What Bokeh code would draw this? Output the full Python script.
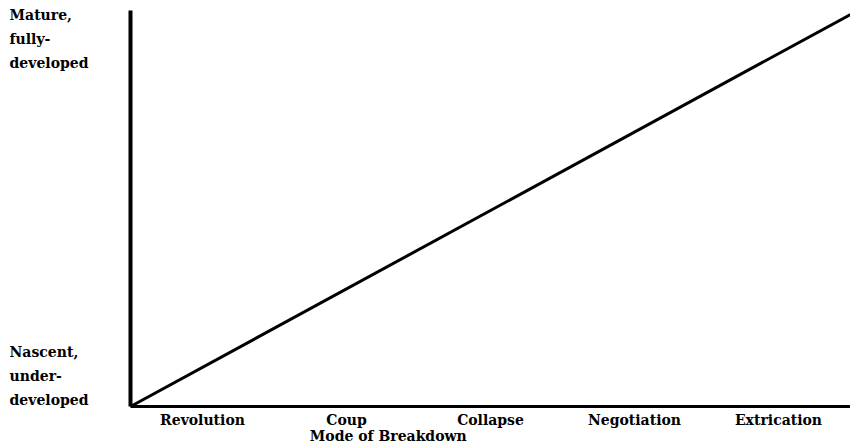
from bokeh.plotting import figure
from bokeh.models import FixedTicker, Label, Range1d
from bokeh.embed import file_html
from bokeh.resources import INLINE

# Data
categories = ["Revolution", "Coup", "Collapse", "Negotiation", "Extrication"]
category_pos = [0.5, 1.5, 2.5, 3.5, 4.5]
line_x = [0, 5]
line_y = [0, 0.99]
y_labels = ["Mature,\nfully-\ndeveloped", "Nascent,\nunder-\ndeveloped"]
y_label_pos = [0.929, 0.076]
x_title = "Mode of Breakdown"

FONT = "DejaVu Serif"

p = figure(width=850, height=444, output_backend="svg", toolbar_location=None,
           x_range=Range1d(-0.903, 5.0), y_range=Range1d(-0.096, 1.0253),
           min_border_left=0, min_border_right=0, min_border_top=0,
           min_border_bottom=0)
p.outline_line_color = None
p.xgrid.grid_line_color = None
p.ygrid.grid_line_color = None
p.background_fill_color = "white"
p.border_fill_color = "white"

p.line(line_x, line_y, line_color="black", line_width=3)

# x axis
xa = p.xaxis[0]
xa.fixed_location = 0
xa.bounds = (0, 5)
xa.ticker = FixedTicker(ticks=category_pos)
xa.major_label_overrides = {pos: lab for pos, lab in zip(category_pos, categories)}
xa.major_tick_line_color = None
xa.minor_tick_line_color = None
xa.axis_line_width = 3
xa.axis_line_color = "black"
xa.major_label_standoff = 0
xa.major_label_text_font = FONT
xa.major_label_text_font_style = "bold"
xa.major_label_text_font_size = "14px"
xa.major_label_text_color = "black"

# y axis
ya = p.yaxis[0]
ya.fixed_location = 0
ya.bounds = (0, 1)
ya.ticker = FixedTicker(ticks=[])
ya.major_tick_line_color = None
ya.minor_tick_line_color = None
ya.axis_line_width = 4
ya.axis_line_color = "black"
ya.major_label_text_font_size = "0px"

for txt, yp in zip(y_labels, y_label_pos):
    p.add_layout(Label(x=-0.84, y=yp, text=txt, text_align="left",
                       text_baseline="middle", text_font=FONT,
                       text_font_style="bold", text_font_size="14px",
                       text_line_height=1.5, text_color="black"))

p.add_layout(Label(x=1.79, y=-0.074, text=x_title, text_align="center",
                   text_baseline="middle", text_font=FONT,
                   text_font_style="bold", text_font_size="14px",
                   text_color="black"))

open("out.html", "w").write(file_html(p, INLINE))
